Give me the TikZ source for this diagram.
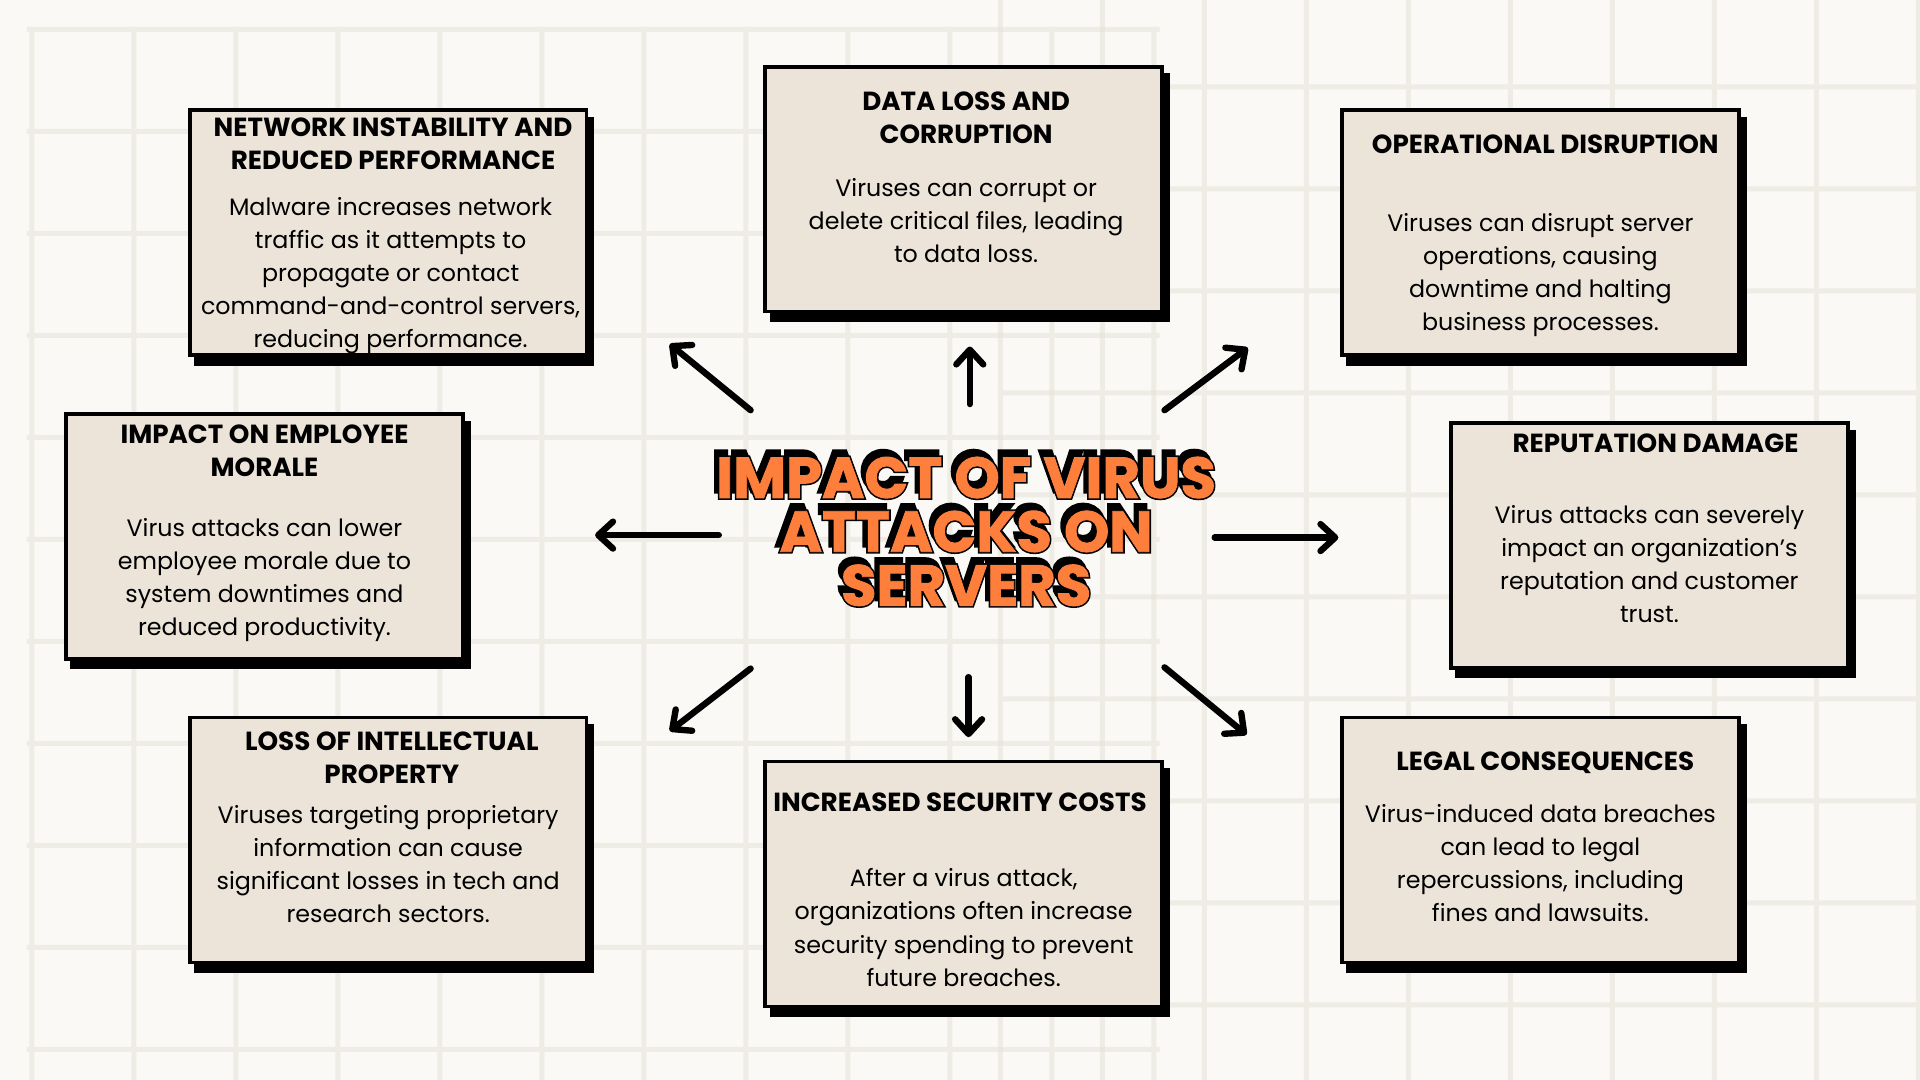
\documentclass[tikz,border=0pt]{standalone}
\usepackage{fontspec}
\setmainfont{Poppins}
\newfontfamily\tout{Poppins}[FakeBold=7]
\newfontfamily\tfill{Poppins}[FakeBold=1.5]
\usetikzlibrary{arrows.meta,shadows}
\definecolor{bgc}{HTML}{FAF9F5}
\definecolor{gridc}{HTML}{E6E2DA}
\definecolor{cardc}{HTML}{EDE4D9}
\definecolor{orangec}{HTML}{FE7E3C}
\begin{document}
\begin{tikzpicture}[x=0.5pt,y=-0.5pt,
  gridline/.style={draw=gridc, line width=2pt},
  card/.style={draw=black, line width=1.5pt, fill=cardc, minimum width=162pt, minimum height=100pt, inner sep=0pt,
      general shadow={fill=black, draw=black, line width=1.5pt, shadow xshift=2.5pt, shadow yshift=-3.5pt}},
  ttl/.style={font=\bfseries\fontsize{10.7}{13.5}\selectfont, align=center, inner sep=0pt},
  body/.style={font=\fontsize{9.7}{13.5}\selectfont, align=center, inner sep=0pt},
  arr/.style={line width=2.6pt, line cap=round, -{Straight Barb[length=6pt,width=11pt,round]}},
  tout/.style={font=\tout\bfseries\fontsize{23.5}{22}\selectfont, align=center, inner sep=0pt, text=black},
  tfill/.style={font=\tfill\bfseries\fontsize{23.5}{22}\selectfont, align=center, inner sep=0pt, text=orangec},
]
\useasboundingbox (0,0) rectangle (1568,882);
\fill[bgc] (0,0) rectangle (1568,882);
% background grids
\begin{scope}[opacity=0.55, transparency group]
\foreach \k in {0,...,11} \draw[gridline] ({26+83.3*\k},22) -- ({26+83.3*\k},882);
\foreach \k in {0,...,10} \draw[gridline] (22,{24+83.3*\k}) -- (947,{24+83.3*\k});
\end{scope}
\begin{scope}[opacity=0.55, transparency group]
\foreach \k in {0,...,9} \draw[gridline] ({817+83.3*\k},0) -- ({817+83.3*\k},882);
\foreach \k in {0,...,9} \draw[gridline] (815,{71+83.3*\k}) -- (1568,{71+83.3*\k});
\end{scope}

% cards
\node[card] (b1) at (317,190) {};
\node[card] (b2) at (787,154.5) {};
\node[card] (b3) at (1258,190) {};
\node[card] (b4) at (216,438) {};
\node[card] (b5) at (1347,445.5) {};
\node[card] (b6) at (317,686) {};
\node[card] (b7) at (787,722) {};
\node[card] (b8) at (1258,686) {};

% card texts
\node[ttl] (b1t) at (321,117.5) {NETWORK INSTABILITY AND\\REDUCED PERFORMANCE};
\node[body] (b1b) at (319,225) {Malware increases network\\traffic as it attempts to\\propagate or contact\\command-and-control servers,\\reducing performance.};
\node[ttl] (b2t) at (789,96.5) {DATA LOSS AND\\CORRUPTION};
\node[body] (b2b) at (789,180) {Viruses can corrupt or\\delete critical files, leading\\to data loss.};
\node[ttl] (b3t) at (1262,118) {OPERATIONAL DISRUPTION};
\node[body] (b3b) at (1258,224.5) {Viruses can disrupt server\\operations, causing\\downtime and halting\\business processes.};
\node[ttl] (b4t) at (216,368.5) {IMPACT ON EMPLOYEE\\MORALE};
\node[body] (b4b) at (216,473.5) {Virus attacks can lower\\employee morale due to\\system downtimes and\\reduced productivity.};
\node[ttl] (b5t) at (1352,362) {REPUTATION DAMAGE};
\node[body] (b5b) at (1347,460.5) {Virus attacks can severely\\impact an organization’s\\reputation and customer\\trust.};
\node[ttl] (b6t) at (320,618.5) {LOSS OF INTELLECTUAL\\PROPERTY};
\node[body] (b6b) at (317,705.5) {Viruses targeting proprietary\\information can cause\\significant losses in tech and\\research sectors.};
\node[ttl] (b7t) at (784,655) {INCREASED SECURITY COSTS};
\node[body] (b7b) at (787,757.5) {After a virus attack,\\organizations often increase\\security spending to prevent\\future breaches.};
\node[ttl] (b8t) at (1262,623) {LEGAL CONSEQUENCES};
\node[body] (b8b) at (1258,704.5) {Virus-induced data breaches\\can lead to legal\\repercussions, including\\fines and lawsuits.};

% central title: black shadow + black outline, orange fill
\node[tout, xshift=-1.5pt, yshift=2.5pt] (tshadow) at (789,434) {IMPACT OF VIRUS\\ATTACKS ON\\SERVERS};
\node[tout] (toutline) at (789,434) {IMPACT OF VIRUS\\ATTACKS ON\\SERVERS};
\node[tfill] (title) at (789,434) {IMPACT OF VIRUS\\ATTACKS ON\\SERVERS};

% arrows
\coordinate (a1s) at (613,335); \coordinate (a1e) at (547,281);
\coordinate (a2s) at (792,330); \coordinate (a2e) at (792,283);
\coordinate (a3s) at (951,335); \coordinate (a3e) at (1019,284);
\coordinate (a4s) at (587,437); \coordinate (a4e) at (486,437);
\coordinate (a5s) at (992,439); \coordinate (a5e) at (1093,439);
\coordinate (a6s) at (613,546); \coordinate (a6e) at (547,597);
\coordinate (a7s) at (791,553); \coordinate (a7e) at (791,602);
\coordinate (a8s) at (951,545); \coordinate (a8e) at (1018,600);
\foreach \i in {1,...,8} \draw[arr] (a\i s) -- (a\i e);
\end{tikzpicture}
\end{document}
